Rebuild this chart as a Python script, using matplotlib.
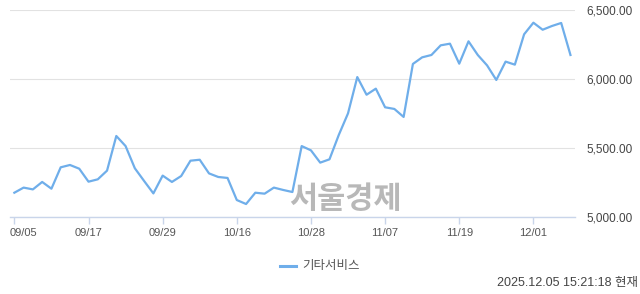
import matplotlib
matplotlib.use("Agg")
import matplotlib.pyplot as plt
import matplotlib.transforms as mtransforms
import numpy as np

values = [5176, 5213, 5200, 5254, 5205, 5360, 5377, 5350, 5256, 5273,
          5336, 5587, 5514, 5353, 5261, 5171, 5300, 5254, 5297, 5408,
          5415, 5316, 5290, 5283, 5123, 5094, 5176, 5169, 5213, 5196,
          5181, 5514, 5483, 5394, 5418, 5594, 5751, 6014, 5886, 5930,
          5795, 5783, 5725, 6109, 6157, 6174, 6244, 6256, 6111, 6273,
          6174, 6099, 5993, 6126, 6104, 6324, 6408, 6357, 6384, 6406,
          6174]
xtick_idx = [0, 8, 16, 24, 32, 40, 48, 56]
xtick_labels = ["09/05", "09/17", "09/29", "10/16", "10/28", "11/07", "11/19", "12/01"]
yticks = [5000, 5500, 6000, 6500]
series_name = "기타서비스"
timestamp = "2025.12.05 15:21:18 현재"
watermark = "서울경제"

W, H = 640, 294
fig = plt.figure(figsize=(W / 100, H / 100), dpi=100)
ax = fig.add_axes([10 / W, 1 - 217 / H, 565 / W, 207 / H])

x = np.arange(len(values))
ax.plot(x, values, color="#6faeea", lw=1.6, solid_joinstyle="round", zorder=3)

ax.set_xlim(-0.47, len(values) - 1 + 0.49)
ax.set_ylim(5000, 6500)

for s in ["top", "left", "right"]:
    ax.spines[s].set_visible(False)
ax.spines["bottom"].set_color("#c9d5ea")
ax.spines["bottom"].set_linewidth(1.0)

ax.set_yticks(yticks)
ax.set_yticklabels([f"{v:,.2f}" for v in yticks])
ax.yaxis.tick_right()
ax.tick_params(axis="y", length=0, pad=8, labelsize=8.5, labelcolor="#444444")
for lab in ax.get_yticklabels():
    lab.set_fontfamily("Liberation Sans")
ax.grid(axis="y", color="#e2e2e2", lw=0.8)
ax.set_axisbelow(True)

ax.set_xticks(xtick_idx)
ax.set_xticklabels(xtick_labels)
ax.tick_params(axis="x", length=5, width=1, color="#c9d5ea", pad=3,
               labelsize=8, labelcolor="#555555")
for lab in ax.get_xticklabels():
    lab.set_fontfamily("Liberation Sans")
first = ax.get_xticklabels()[0]
first.set_horizontalalignment("left")
first.set_transform(first.get_transform() +
                    mtransforms.ScaledTranslation(-4.3 / 100, 0, fig.dpi_scale_trans))

fig.text(345 / W, 1 - 199 / H, watermark, fontsize=22, fontweight="bold",
         color="#b8b8b8", ha="center", va="center",
         family=["Noto Sans CJK KR", "DejaVu Sans"], zorder=2)

# legend
fig.add_artist(plt.Line2D([280 / W, 296 / W], [1 - 266 / H, 1 - 266 / H],
                          color="#6faeea", lw=2.2, transform=fig.transFigure))
fig.text(302 / W, 1 - 266 / H, series_name, fontsize=9, color="#555555",
         ha="left", va="center", family=["Noto Sans CJK KR", "DejaVu Sans"])

fig.text(638 / W, 1 - 283 / H, timestamp, fontsize=9, color="#444444",
         ha="right", va="center",
         family=["Liberation Sans", "Noto Sans CJK KR", "DejaVu Sans"])

fig.savefig("out.png", dpi=100)
